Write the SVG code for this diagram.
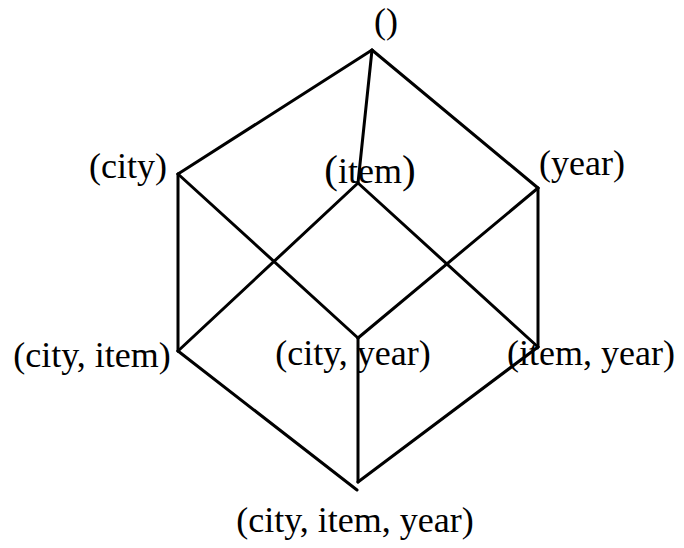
<svg xmlns="http://www.w3.org/2000/svg" width="684" height="548" viewBox="0 0 684 548">
<style>
text{font-family:"Liberation Serif","Times New Roman",serif;font-size:36px;fill:#000}
.e{stroke:#000;stroke-width:3;fill:none;stroke-linecap:round}
</style>
<rect width="684" height="548" fill="#fff"/>
<g id="connectors">
<line class="e" x1="372" y1="50" x2="178" y2="174"/>
<line class="e" x1="372" y1="50" x2="358" y2="183"/>
<line class="e" x1="372" y1="50" x2="538" y2="188"/>
<line class="e" x1="178" y1="174" x2="178" y2="351"/>
<line class="e" x1="178" y1="174" x2="358" y2="338"/>
<line class="e" x1="358" y1="183" x2="178" y2="351"/>
<line class="e" x1="358" y1="183" x2="538" y2="347"/>
<line class="e" x1="538" y1="188" x2="358" y2="338"/>
<line class="e" x1="538" y1="188" x2="538" y2="347"/>
<line class="e" x1="178" y1="351" x2="357" y2="490"/>
<line class="e" x1="358" y1="338" x2="358" y2="482"/>
<line class="e" x1="538" y1="347" x2="358" y2="482"/>
</g>
<g id="n-all"><text x="386" y="33" text-anchor="middle">()</text></g>
<g id="n-city"><text x="128" y="178" text-anchor="middle">(city)</text></g>
<g id="n-item"><text x="370" y="183" text-anchor="middle"><tspan font-size="41">(</tspan>item<tspan font-size="41">)</tspan></text></g>
<g id="n-year"><text x="582" y="175" text-anchor="middle">(year)</text></g>
<g id="n-city-item"><text x="92" y="367" text-anchor="middle">(city, item)</text></g>
<g id="n-city-year"><text x="353" y="365" text-anchor="middle">(city, year)</text></g>
<g id="n-item-year"><text x="591" y="365" text-anchor="middle">(item, year)</text></g>
<g id="n-city-item-year"><text x="355" y="532" text-anchor="middle">(city, item, year)</text></g>
</svg>
